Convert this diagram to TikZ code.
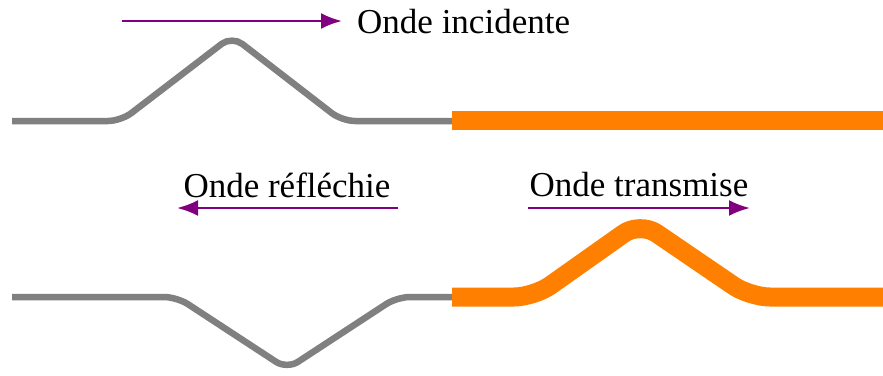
\documentclass[tikz,border=0pt]{standalone}
\usepackage{fontspec}
\setmainfont{Liberation Serif}
\usetikzlibrary{arrows.meta}
\definecolor{wavegray}{RGB}{128,128,128}
\definecolor{waveorange}{RGB}{255,128,0}
\definecolor{wavepurple}{RGB}{128,0,128}
\tikzset{
  thinrope/.style={draw=wavegray, line width=6.5pt, rounded corners=13pt},
  thickrope/.style={draw=waveorange, line width=19pt, rounded corners=20pt},
  motion/.style={draw=wavepurple, line width=2.6pt, -{Latex[length=21pt,width=16pt]}},
  caption/.style={font=\fontsize{35}{42}\selectfont, inner sep=0pt}
}
\begin{document}
\begin{tikzpicture}[x=1pt,y=-1pt]
\useasboundingbox (0,0) rectangle (883,375);

% incident pulse on the light rope
\draw[thinrope] (12,121) -- (121,121) -- (232,36) -- (342,121) -- (452,121);
% heavy rope at rest
\draw[thickrope] (452,120) -- (883,120);

% reflected (inverted) pulse on the light rope
\draw[thinrope] (12,297) -- (177,297) -- (287,369) -- (397,297) -- (452,297);
% transmitted pulse on the heavy rope
\draw[thickrope] (452,297) -- (534,297) -- (640,222) -- (750,297) -- (883,297);

% propagation directions
\coordinate (incA) at (122,21);
\coordinate (incB) at (342,21);
\coordinate (refA) at (398,208);
\coordinate (refB) at (177,208);
\coordinate (traA) at (528,208);
\coordinate (traB) at (750,208);
\draw[motion] (incA) -- (incB);
\draw[motion] (refA) -- (refB);
\draw[motion] (traA) -- (traB);

\node[caption, anchor=west] (inc) at (357,22) {Onde incidente};
\node[caption] (ref) at (287,185) {Onde réfléchie};
\node[caption] (tra) at (639,185) {Onde transmise};
\end{tikzpicture}
\end{document}
